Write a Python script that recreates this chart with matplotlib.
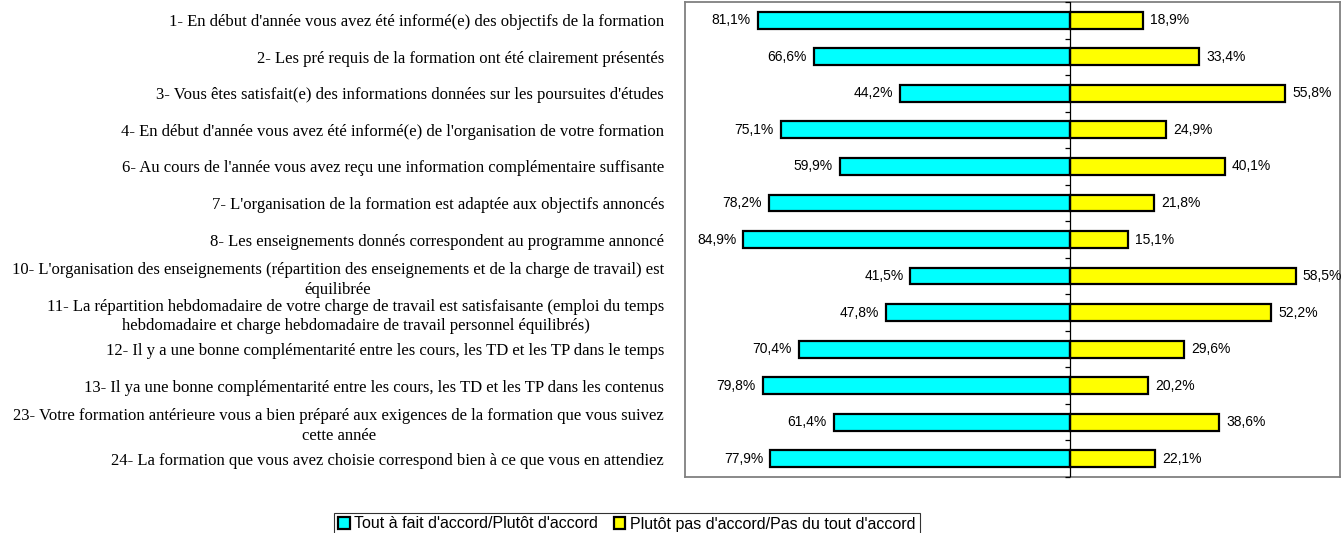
import matplotlib
matplotlib.use("Agg")
import matplotlib.pyplot as plt
import numpy as np

categories = [
    "1- En début d'année vous avez été informé(e) des objectifs de la formation",
    "2- Les pré requis de la formation ont été clairement présentés",
    "3- Vous êtes satisfait(e) des informations données sur les poursuites d'études",
    "4- En début d'année vous avez été informé(e) de l'organisation de votre formation",
    "6- Au cours de l'année vous avez reçu une information complémentaire suffisante",
    "7- L'organisation de la formation est adaptée aux objectifs annoncés",
    "8- Les enseignements donnés correspondent au programme annoncé",
    "10- L'organisation des enseignements (répartition des enseignements et de la charge de travail) est\néquilibrée",
    "11- La répartition hebdomadaire de votre charge de travail est satisfaisante (emploi du temps\nhebdomadaire et charge hebdomadaire de travail personnel équilibrés)",
    "12- Il y a une bonne complémentarité entre les cours, les TD et les TP dans le temps",
    "13- Il ya une bonne complémentarité entre les cours, les TD et les TP dans les contenus",
    "23- Votre formation antérieure vous a bien préparé aux exigences de la formation que vous suivez\ncette année",
    "24- La formation que vous avez choisie correspond bien à ce que vous en attendiez",
]
accord = [81.1, 66.6, 44.2, 75.1, 59.9, 78.2, 84.9, 41.5, 47.8, 70.4, 79.8, 61.4, 77.9]
desaccord = [18.9, 33.4, 55.8, 24.9, 40.1, 21.8, 15.1, 58.5, 52.2, 29.6, 20.2, 38.6, 22.1]
series_names = ["Tout à fait d'accord/Plutôt d'accord", "Plutôt pas d'accord/Pas du tout d'accord"]

fig = plt.figure(figsize=(13.44, 5.33), dpi=100)
ax = fig.add_axes([685/1344, 1-477/533, (1340-685)/1344, 475/533])

y = np.arange(len(categories))
h = 0.46
b1 = ax.barh(y, [-v for v in accord], height=h, color="#00FFFF", edgecolor="black", linewidth=1.6,
             label=series_names[0])
b2 = ax.barh(y, desaccord, height=h, color="#FFFF00", edgecolor="black", linewidth=1.6,
             label=series_names[1])
ax.bar_label(b1, labels=[f"{v:.1f}%".replace(".", ",") for v in accord], padding=5,
             fontsize=10, family="Liberation Sans")
ax.bar_label(b2, labels=[f"{v:.1f}%".replace(".", ",") for v in desaccord], padding=5,
             fontsize=10, family="Liberation Sans")

ax.set_xlim(-100, 70)
ax.set_ylim(len(categories) - 0.5, -0.5)
ax.set_xticks([])
ax.set_yticks(y)
ax.set_yticklabels(categories, fontsize=12, family="Liberation Serif",
                   multialignment="center", linespacing=1.3)
ax.tick_params(axis="y", length=0, pad=15)

for s in ax.spines.values():
    s.set_color("#808080")
    s.set_linewidth(1.3)

# category axis at zero with tick marks at category boundaries
ax.axvline(0, color="black", linewidth=0.9, zorder=3)
bounds = np.arange(len(categories) + 1) - 0.5
ax.hlines(bounds, -1.3, 0, color="black", linewidth=0.9, zorder=3, clip_on=False)

leg = fig.legend(handles=[b1, b2], loc="center", bbox_to_anchor=(627/1344, 1-524/533), ncol=2,
                 frameon=True, fancybox=False, edgecolor="black",
                 prop={"family": "Liberation Sans", "size": 11.5},
                 handlelength=0.7, handleheight=0.7, handletextpad=0.3, columnspacing=1.0,
                 borderpad=0.25, borderaxespad=0.0)
leg.get_frame().set_linewidth(0.8)

fig.savefig("out.png", dpi=100)
